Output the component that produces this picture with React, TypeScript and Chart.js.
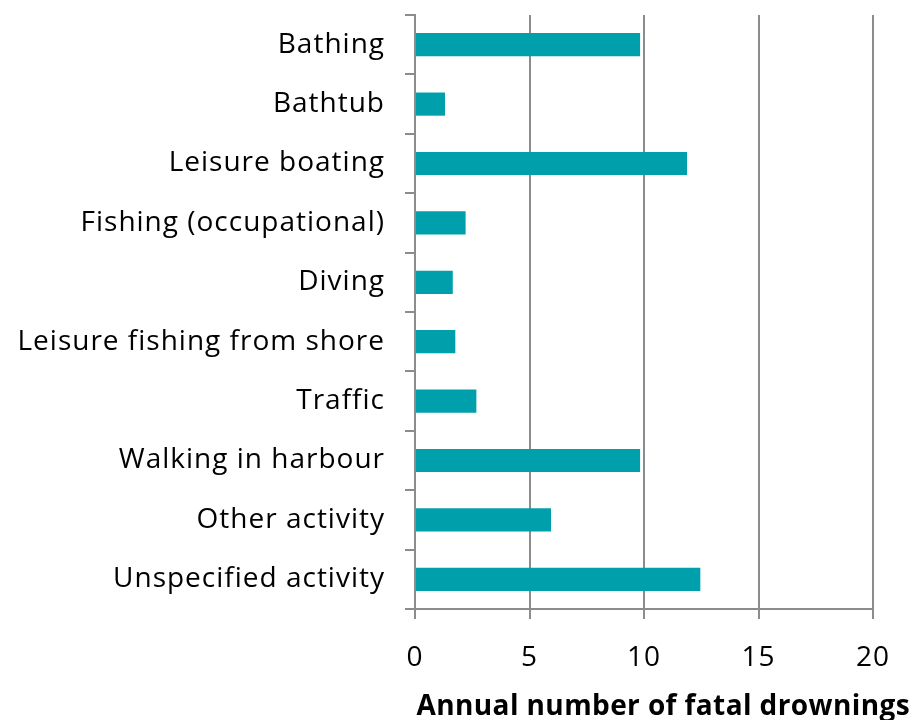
import React, { useEffect, useRef } from 'react';
import { Chart, registerables } from 'chart.js';

Chart.register(...registerables);

const categories = [
  'Bathing',
  'Bathtub',
  'Leisure boating',
  'Fishing (occupational)',
  'Diving',
  'Leisure fishing from shore',
  'Traffic',
  'Walking in harbour',
  'Other activity',
  'Unspecified activity',
];
const drownings = [9.83, 1.31, 11.88, 2.21, 1.65, 1.76, 2.68, 9.83, 5.94, 12.46];
const xMin = 0;
const xMax = 20;
const xStep = 5;
const axisTitle = 'Annual number of fatal drownings';

const FONT = '"Open Sans", Lato, sans-serif';
const GRID = '#8c8c8c';
const BAR = '#009fac';

export default function App() {
  const ref = useRef<HTMLCanvasElement>(null);
  useEffect(() => {
    if (!ref.current) return;
    const spacingPlugin = {
      id: 'spacing',
      beforeDraw(chart: any) {
        chart.ctx.letterSpacing = '1px';
      },
    };
    const titlePlugin = {
      id: 'xTitle',
      afterDraw(chart: any) {
        const { ctx } = chart;
        ctx.save();
        ctx.letterSpacing = '0.4px';
        ctx.font = `bold 28px ${FONT}`;
        ctx.fillStyle = '#000';
        ctx.textAlign = 'right';
        ctx.textBaseline = 'middle';
        ctx.fillText(axisTitle, chart.width - 6, 707);
        ctx.restore();
        ctx.letterSpacing = '0px';
      },
    };
    const chart = new Chart(ref.current, {
      type: 'bar',
      data: {
        labels: categories,
        datasets: [
          {
            data: drownings,
            backgroundColor: BAR,
            borderWidth: 0,
            categoryPercentage: 1,
            barPercentage: 0.39,
          },
        ],
      },
      plugins: [spacingPlugin, titlePlugin],
      options: {
        indexAxis: 'y',
        animation: false,
        responsive: false,
        maintainAspectRatio: false,
        layout: { padding: { top: 15, right: 43, left: 0, bottom: 0 } },
        plugins: { legend: { display: false }, tooltip: { enabled: false } },
        scales: {
          x: {
            type: 'linear',
            min: xMin,
            max: xMax,
            ticks: {
              stepSize: xStep,
              color: '#000',
              font: { family: FONT, size: 28 },
              padding: 22,
              maxRotation: 0,
            },
            grid: { color: GRID, lineWidth: 2, tickLength: 10 },
            border: { display: true, color: GRID, width: 2 },
            afterFit(scale: any) {
              scale.height = 111;
              scale.paddingLeft = 0;
              scale.paddingRight = 0;
            },
          },
          y: {
            type: 'category',
            ticks: {
              color: '#000',
              font: { family: FONT, size: 28 },
              padding: 20,
            },
            grid: {
              offset: true,
              drawOnChartArea: false,
              drawTicks: true,
              tickLength: 10,
              color: GRID,
              lineWidth: 2,
            },
            border: { display: true, color: GRID, width: 2 },
            afterFit(scale: any) {
              scale.width = 415;
              scale.paddingTop = 0;
              scale.paddingBottom = 0;
            },
          },
        },
      },
    });
    return () => chart.destroy();
  }, []);
  return (
    <div style={{ position: 'fixed', left: 0, top: 0, width: 916, height: 720, background: '#fff' }}>
      <canvas ref={ref} width={916} height={720} style={{ width: 916, height: 720 }} />
    </div>
  );
}
